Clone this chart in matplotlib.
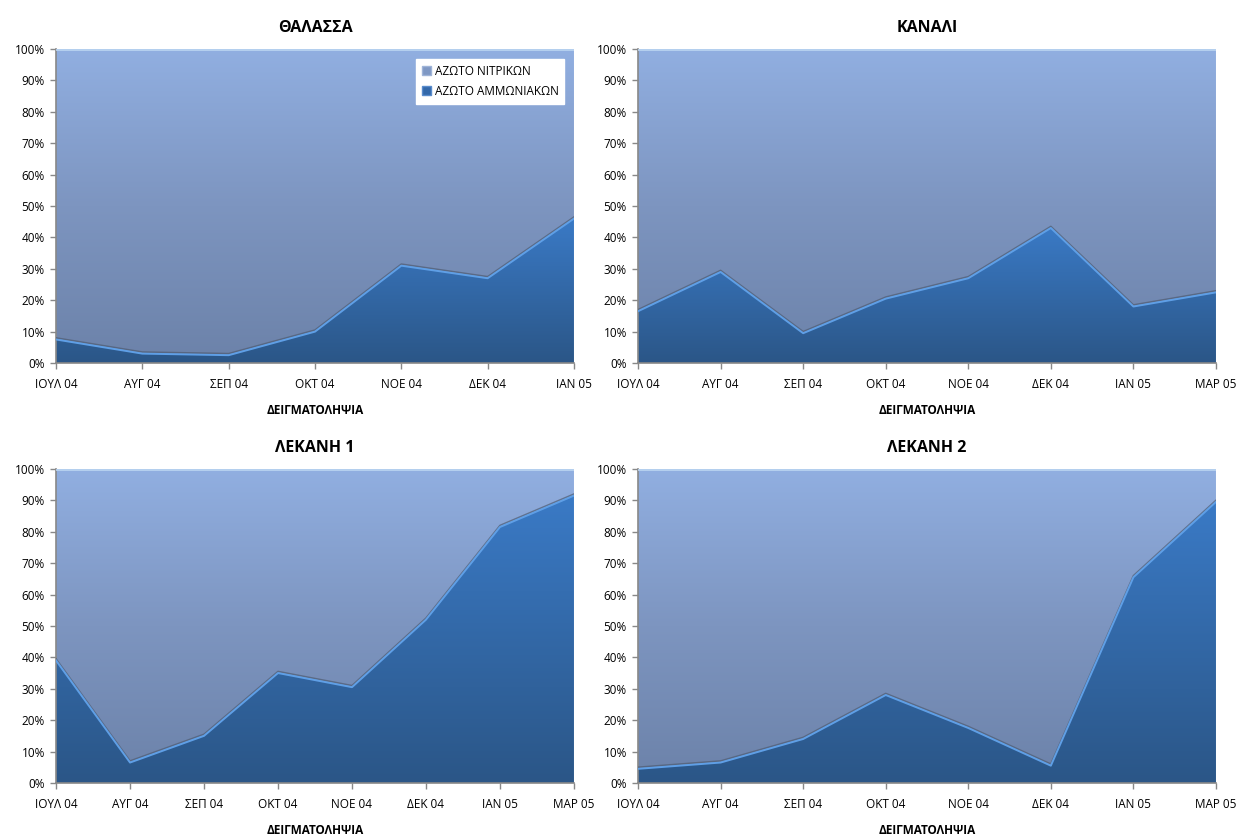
import numpy as np
import matplotlib.pyplot as plt
from matplotlib.colors import LinearSegmentedColormap

plt.rcParams['font.family'] = ['Open Sans', 'DejaVu Sans']

# Sampling months
months_7 = ['ΙΟΥΛ 04', 'ΑΥΓ 04', 'ΣΕΠ 04', 'ΟΚΤ 04', 'ΝΟΕ 04', 'ΔΕΚ 04', 'ΙΑΝ 05']
months_8 = ['ΙΟΥΛ 04', 'ΑΥΓ 04', 'ΣΕΠ 04', 'ΟΚΤ 04', 'ΝΟΕ 04', 'ΔΕΚ 04', 'ΙΑΝ 05', 'ΜΑΡ 05']

# Share of ammonium nitrogen (%); nitrate nitrogen makes up the rest to 100%
thalassa_nh4 = [7.5, 3.0, 2.5, 10.0, 31.0, 27.0, 46.0]
kanali_nh4 = [16.5, 29.0, 9.5, 20.5, 27.0, 43.0, 18.0, 22.5]
lekani1_nh4 = [39.0, 6.5, 15.0, 35.0, 30.5, 52.0, 81.5, 91.5]
lekani2_nh4 = [4.5, 6.5, 14.0, 28.0, 17.5, 5.5, 65.5, 89.5]

series_names = ['ΑΖΩΤΟ ΝΙΤΡΙΚΩΝ', 'ΑΖΩΤΟ ΑΜΜΩΝΙΑΚΩΝ']

panels = [
    ('ΘΑΛΑΣΣΑ', months_7, thalassa_nh4),
    ('ΚΑΝΑΛΙ', months_8, kanali_nh4),
    ('ΛΕΚΑΝΗ 1', months_8, lekani1_nh4),
    ('ΛΕΚΑΝΗ 2', months_8, lekani2_nh4),
]

positions = [
    [0.0453, 0.5673, 0.4187, 0.3743],
    [0.5158, 0.5673, 0.4672, 0.3743],
    [0.0453, 0.0668, 0.4187, 0.3743],
    [0.5158, 0.0668, 0.4672, 0.3743],
]

nitrate_cmap = LinearSegmentedColormap.from_list('no3', ['#6c82a9', '#7d95c0', '#91afe1'])
ammonium_cmap = LinearSegmentedColormap.from_list('nh4', ['#2b5687', '#3a7ac6'])


def gradient_fill(ax, x, lower, upper, cmap, y0, y1):
    poly = ax.fill_between(x, lower, upper, facecolor='none', edgecolor='none')
    grad = np.linspace(0, 1, 256).reshape(-1, 1)
    img = ax.imshow(grad, cmap=cmap, origin='lower', aspect='auto',
                    extent=[x[0], x[-1], y0, y1], zorder=1)
    img.set_clip_path(poly.get_paths()[0], transform=ax.transData)


fig = plt.figure(figsize=(12.37, 8.39), dpi=100)

for i, (title, months, nh4) in enumerate(panels):
    ax = fig.add_axes(positions[i])
    x = np.arange(len(months))
    nh4 = np.array(nh4)

    gradient_fill(ax, x, nh4, np.full_like(nh4, 100.0), nitrate_cmap, 0, 100)
    gradient_fill(ax, x, np.zeros_like(nh4), nh4, ammonium_cmap, 0, nh4.max())

    # soft edge between the two areas
    ax.plot(x, nh4 + 0.5, color='#4f5b70', lw=1.2, alpha=0.7, zorder=3)
    ax.plot(x, nh4, color='#5f9fe6', lw=1.4, zorder=4)
    ax.plot(x, np.full(len(x), 99.6), color='#bcd6f2', lw=1.2, zorder=4)

    ax.set_xlim(0, len(months) - 1)
    ax.set_ylim(0, 100)
    ax.set_xticks(x)
    ax.set_xticklabels(months, fontsize=8.5)
    ax.set_yticks(np.arange(0, 101, 10))
    ax.set_yticklabels([f'{v}%' for v in range(0, 101, 10)], fontsize=8.5)
    ax.tick_params(axis='both', colors='#888888', labelcolor='black',
                   length=4, width=1, pad=4)
    ax.tick_params(axis='x', pad=7)
    for side in ['top', 'right']:
        ax.spines[side].set_visible(False)
    for side in ['left', 'bottom']:
        ax.spines[side].set_color('#888888')
        ax.spines[side].set_linewidth(1.2)

    ax.set_title(title, fontsize=11.5, fontweight='bold', pad=12)
    ax.set_xlabel('ΔΕΙΓΜΑΤΟΛΗΨΙΑ', fontsize=8.5, fontweight='bold', labelpad=9)

    if i == 0:
        handles = [
            plt.Rectangle((0, 0), 1, 1, facecolor='#7f98c4', edgecolor='#9fb4d8'),
            plt.Rectangle((0, 0), 1, 1, facecolor='#3368aa', edgecolor='#5a8ccc'),
        ]
        leg = ax.legend(handles, series_names, loc='upper right', fontsize=8.5,
                        frameon=True, fancybox=False, handlelength=0.8,
                        handleheight=0.8, handletextpad=0.3, borderpad=0.5,
                        labelspacing=0.6, bbox_to_anchor=(0.993, 0.987))
        leg.get_frame().set_facecolor('white')
        leg.get_frame().set_edgecolor('white')
        leg.get_frame().set_alpha(1)
        leg.set_zorder(10)

fig.savefig('out.png', dpi=100)
